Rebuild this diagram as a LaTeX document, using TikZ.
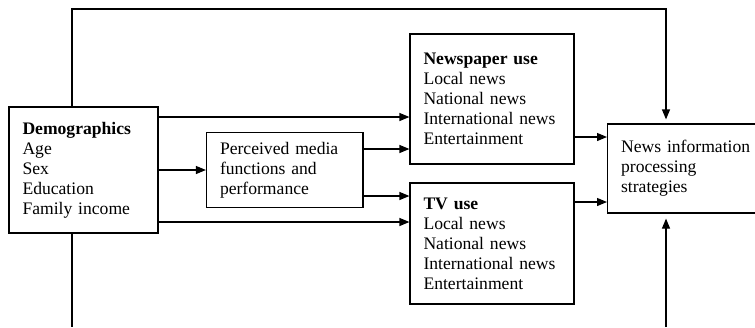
\documentclass[tikz,border=0pt]{standalone}
\usepackage{fontspec}
\setmainfont{Liberation Serif}
\usetikzlibrary{arrows.meta}
\begin{document}
\begin{tikzpicture}[x=1pt, y=-1pt, >={Triangle[length=10pt,width=8pt]}, line width=1.2pt, box/.style = {draw, rectangle, align=left, inner xsep=13.5pt, inner ysep=0pt, font=\fontsize{17.6}{20}\selectfont}]
  \useasboundingbox (0, 0) rectangle (755, 327);
  \node[box, text width=122pt, minimum height=126pt] at (83.5, 170) (demog) {\textbf{Demographics}\\Age\\Sex\\Education\\Family income};
  \node[box, text width=129.5pt, minimum height=74.5pt] at (284.75, 170) (perceived) {Perceived media\\functions and\\performance};
  \node[box, text width=137pt, minimum height=130pt] at (492, 99) (newspaper) {\textbf{Newspaper use}\\Local news\\National news\\International news\\Entertainment\\[6pt]};
  \node[box, text width=137pt, minimum height=121pt] at (492, 243.5) (tv) {\textbf{TV use}\\Local news\\National news\\International news\\Entertainment};
  \node[box, text width=130pt, minimum height=89pt, anchor=west] at (607, 168.5) (news) {News information\\processing\\strategies};
  \coordinate (top-left) at (72, 9);
  \coordinate (top-right) at (666, 9);
  \coordinate (bottom-left) at (72, 327);
  \coordinate (bottom-right) at (666, 327);
  \draw[->, shorten >=4pt] (demog.north -| top-left) -- (top-left) -- (top-right) -- (news.north -| top-right);
  \draw[->] ([yshift=53pt]demog.east) -- ([yshift=-18pt]newspaper.west);
  \draw[->] (demog.east) -- (perceived.west);
  \draw[->] ([yshift=21pt]perceived.east) -- ([yshift=-50pt]newspaper.west);
  \draw[->] ([yshift=-26pt]perceived.east) -- ([yshift=47.5pt]tv.west);
  \draw[->] ([yshift=-52pt]demog.east) -- ([yshift=21.5pt]tv.west);
  \draw[->] ([yshift=-38pt]newspaper.east) -- ([yshift=31.5pt]news.west);
  \draw[->] ([yshift=41.5pt]tv.east) -- ([yshift=-33.5pt]news.west);
  \draw (demog.south -| bottom-left) -- (bottom-left);
  \draw[->, shorten >=5pt] (bottom-right) -- (news.south -| bottom-right);
\end{tikzpicture}
\end{document}
